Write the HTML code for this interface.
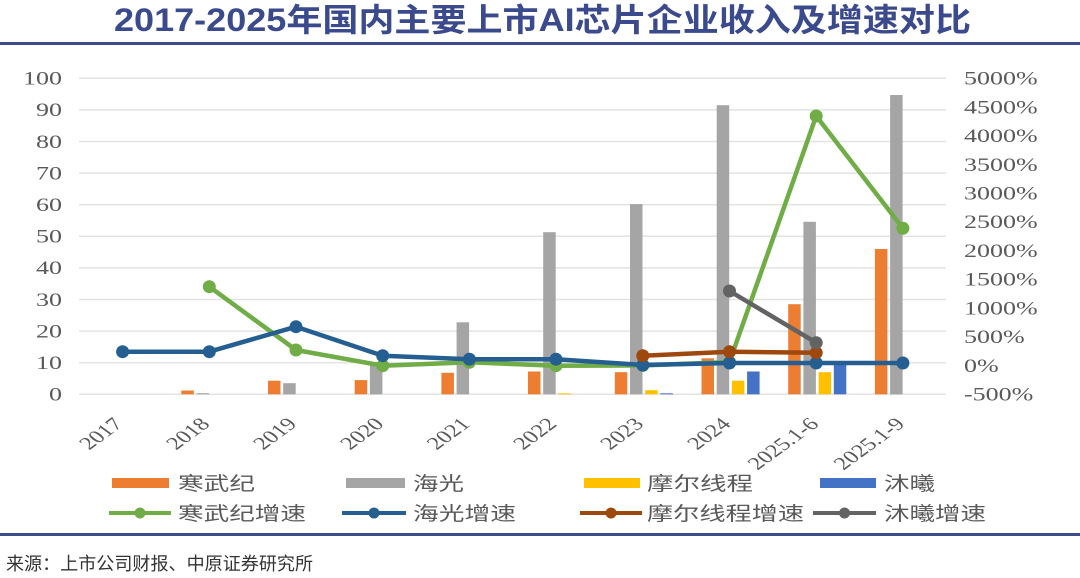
<!DOCTYPE html>
<html>
<head>
<meta charset="utf-8">
<style>
html,body{margin:0;padding:0;background:#fff;}
svg{display:block;}
.lg{font-family:"Liberation Sans","Noto Sans CJK SC",sans-serif;font-size:19px;fill:#595959;}
</style>
</head>
<body>
<svg width="1080" height="578" viewBox="0 0 1080 578" xmlns="http://www.w3.org/2000/svg">
<rect width="1080" height="578" fill="#fff"/>
<!-- title -->
<text x="114" y="31" textLength="857" lengthAdjust="spacingAndGlyphs" style="font-family:'Liberation Sans','Noto Sans CJK SC',sans-serif;font-size:32px;font-weight:bold;fill:#3b4a8c;">2017-2025年国内主要上市AI芯片企业收入及增速对比</text>
<rect x="0" y="42" width="1080" height="3" fill="#3f4c8c"/>

<!-- gridlines -->
<g stroke="#e3e3e3" stroke-width="1.5">
<line x1="79" x2="946" y1="394.3" y2="394.3"/>
<line x1="79" x2="946" y1="362.7" y2="362.7"/>
<line x1="79" x2="946" y1="331.1" y2="331.1"/>
<line x1="79" x2="946" y1="299.5" y2="299.5"/>
<line x1="79" x2="946" y1="267.9" y2="267.9"/>
<line x1="79" x2="946" y1="236.3" y2="236.3"/>
<line x1="79" x2="946" y1="204.7" y2="204.7"/>
<line x1="79" x2="946" y1="173.1" y2="173.1"/>
<line x1="79" x2="946" y1="141.5" y2="141.5"/>
<line x1="79" x2="946" y1="109.9" y2="109.9"/>
<line x1="79" x2="946" y1="78.3" y2="78.3"/>
</g>

<!-- left axis labels -->
<g font-family="Liberation Serif, serif" font-size="19" fill="#595959" text-anchor="end">
<text font-family="Liberation Serif, serif" transform="translate(62,400.6) scale(1.37,1)">0</text>
<text font-family="Liberation Serif, serif" transform="translate(62,369) scale(1.37,1)">10</text>
<text font-family="Liberation Serif, serif" transform="translate(62,337.4) scale(1.37,1)">20</text>
<text font-family="Liberation Serif, serif" transform="translate(62,305.8) scale(1.37,1)">30</text>
<text font-family="Liberation Serif, serif" transform="translate(62,274.2) scale(1.37,1)">40</text>
<text font-family="Liberation Serif, serif" transform="translate(62,242.6) scale(1.37,1)">50</text>
<text font-family="Liberation Serif, serif" transform="translate(62,211) scale(1.37,1)">60</text>
<text font-family="Liberation Serif, serif" transform="translate(62,179.4) scale(1.37,1)">70</text>
<text font-family="Liberation Serif, serif" transform="translate(62,147.8) scale(1.37,1)">80</text>
<text font-family="Liberation Serif, serif" transform="translate(62,116.2) scale(1.37,1)">90</text>
<text font-family="Liberation Serif, serif" transform="translate(62,84.6) scale(1.37,1)">100</text>
</g>
<!-- right axis labels: y = 394.3 - j*28.73 + 6.3 -->
<g font-family="Liberation Serif, serif" font-size="19" fill="#595959">
<text font-family="Liberation Serif, serif" transform="translate(964,400.6) scale(1.37,1)">-500%</text>
<text font-family="Liberation Serif, serif" transform="translate(964,371.9) scale(1.37,1)">0%</text>
<text font-family="Liberation Serif, serif" transform="translate(964,343.1) scale(1.37,1)">500%</text>
<text font-family="Liberation Serif, serif" transform="translate(964,314.4) scale(1.37,1)">1000%</text>
<text font-family="Liberation Serif, serif" transform="translate(964,285.7) scale(1.37,1)">1500%</text>
<text font-family="Liberation Serif, serif" transform="translate(964,256.9) scale(1.37,1)">2000%</text>
<text font-family="Liberation Serif, serif" transform="translate(964,228.2) scale(1.37,1)">2500%</text>
<text font-family="Liberation Serif, serif" transform="translate(964,199.5) scale(1.37,1)">3000%</text>
<text font-family="Liberation Serif, serif" transform="translate(964,170.8) scale(1.37,1)">3500%</text>
<text font-family="Liberation Serif, serif" transform="translate(964,142.0) scale(1.37,1)">4000%</text>
<text font-family="Liberation Serif, serif" transform="translate(964,113.3) scale(1.37,1)">4500%</text>
<text font-family="Liberation Serif, serif" transform="translate(964,84.6) scale(1.37,1)">5000%</text>
</g>

<!-- bars -->
<g fill="#ed7d31">
<rect x="181.3" y="390.5" width="12.5" height="3.8"/>
<rect x="268" y="380.7" width="12.5" height="13.6"/>
<rect x="354.7" y="380.1" width="12.5" height="14.2"/>
<rect x="441.4" y="372.8" width="12.5" height="21.5"/>
<rect x="528" y="371.5" width="12.5" height="22.8"/>
<rect x="614.8" y="372.2" width="12.5" height="22.1"/>
<rect x="701.5" y="358.3" width="12.5" height="36"/>
<rect x="788.2" y="304.2" width="12.5" height="90.1"/>
<rect x="874.9" y="249" width="12.5" height="145.3"/>
</g>
<g fill="#a5a5a5">
<rect x="196.5" y="393.2" width="12.5" height="1.1"/>
<rect x="283.2" y="383.2" width="12.5" height="11.1"/>
<rect x="369.9" y="362.1" width="12.5" height="32.2"/>
<rect x="456.6" y="322.3" width="12.5" height="72"/>
<rect x="543.2" y="232.2" width="12.5" height="162.1"/>
<rect x="630" y="204.1" width="12.5" height="190.2"/>
<rect x="716.7" y="105.2" width="12.5" height="289.1"/>
<rect x="803.4" y="221.8" width="12.5" height="172.5"/>
<rect x="890.1" y="95" width="12.5" height="299.3"/>
</g>
<g fill="#ffc000">
<rect x="558.4" y="393.3" width="12.5" height="1"/>
<rect x="645.2" y="390.2" width="12.5" height="4.1"/>
<rect x="731.9" y="380.7" width="12.5" height="13.6"/>
<rect x="818.6" y="372.2" width="12.5" height="22.1"/>
</g>
<g fill="#4472c4">
<rect x="660.4" y="393.3" width="12.5" height="1"/>
<rect x="747.1" y="371.5" width="12.5" height="22.8"/>
<rect x="833.8" y="361.8" width="12.5" height="32.5"/>
</g>

<!-- lines -->
<polyline fill="none" stroke="#70ad47" stroke-width="4.5" stroke-linejoin="round" points="209.3,286.7 296,350 382.7,365.7 469.4,362.3 556,365.7 642.8,365.5 729.5,362 816.2,116 902.9,228.3"/>
<g fill="#70ad47">
<circle cx="209.3" cy="286.7" r="6.5"/><circle cx="296" cy="350" r="6.5"/><circle cx="382.7" cy="365.7" r="6.5"/><circle cx="469.4" cy="362.3" r="6.5"/><circle cx="556" cy="365.7" r="6.5"/><circle cx="642.8" cy="365.5" r="6.5"/><circle cx="729.5" cy="362" r="6.5"/><circle cx="816.2" cy="116" r="6.5"/><circle cx="902.9" cy="228.3" r="6.5"/>
</g>
<polyline fill="none" stroke="#255e91" stroke-width="4.5" stroke-linejoin="round" points="122.6,351.7 209.3,351.7 296,326.7 382.7,355.7 469.4,359.2 556,359.2 642.8,365 729.5,363 816.2,363 902.9,363"/>
<g fill="#255e91">
<circle cx="122.6" cy="351.7" r="6.5"/><circle cx="209.3" cy="351.7" r="6.5"/><circle cx="296" cy="326.7" r="6.5"/><circle cx="382.7" cy="355.7" r="6.5"/><circle cx="469.4" cy="359.2" r="6.5"/><circle cx="556" cy="359.2" r="6.5"/><circle cx="642.8" cy="365" r="6.5"/><circle cx="729.5" cy="363" r="6.5"/><circle cx="816.2" cy="363" r="6.5"/><circle cx="902.9" cy="363" r="6.5"/>
</g>
<polyline fill="none" stroke="#9e480e" stroke-width="4.5" stroke-linejoin="round" points="642.8,355.7 729.5,351.7 816.2,352.7"/>
<g fill="#9e480e">
<circle cx="642.8" cy="355.7" r="6.5"/><circle cx="729.5" cy="351.7" r="6.5"/><circle cx="816.2" cy="352.7" r="6.5"/>
</g>
<polyline fill="none" stroke="#636363" stroke-width="4.5" points="729.5,291 816.2,342.7"/>
<g fill="#636363">
<circle cx="729.5" cy="291" r="6.5"/><circle cx="816.2" cy="342.7" r="6.5"/>
</g>

<!-- x labels -->
<g font-family="Liberation Serif, serif" font-size="18" fill="#595959" text-anchor="end">
<text font-family="Liberation Serif, serif" transform="translate(124,425) scale(1.37,1) rotate(-45)">2017</text>
<text font-family="Liberation Serif, serif" transform="translate(211,425) scale(1.37,1) rotate(-45)">2018</text>
<text font-family="Liberation Serif, serif" transform="translate(298,425) scale(1.37,1) rotate(-45)">2019</text>
<text font-family="Liberation Serif, serif" transform="translate(385,425) scale(1.37,1) rotate(-45)">2020</text>
<text font-family="Liberation Serif, serif" transform="translate(471.5,425) scale(1.37,1) rotate(-45)">2021</text>
<text font-family="Liberation Serif, serif" transform="translate(558,425) scale(1.37,1) rotate(-45)">2022</text>
<text font-family="Liberation Serif, serif" transform="translate(645,425) scale(1.37,1) rotate(-45)">2023</text>
<text font-family="Liberation Serif, serif" transform="translate(732,425) scale(1.37,1) rotate(-45)">2024</text>
<text font-family="Liberation Serif, serif" transform="translate(820,425) scale(1.37,1) rotate(-45)">2025.1-6</text>
<text font-family="Liberation Serif, serif" transform="translate(906,425) scale(1.37,1) rotate(-45)">2025.1-9</text>
</g>

<!-- legend row 1 -->
<rect x="112" y="478" width="57" height="10" fill="#ed7d31"/>
<text class="lg" x="178" y="490" textLength="77" lengthAdjust="spacingAndGlyphs">寒武纪</text>
<rect x="346" y="478" width="59" height="10" fill="#a5a5a5"/>
<text class="lg" x="413" y="490" textLength="51" lengthAdjust="spacingAndGlyphs">海光</text>
<rect x="584" y="478" width="56" height="10" fill="#ffc000"/>
<text class="lg" x="647" y="490" textLength="106" lengthAdjust="spacingAndGlyphs">摩尔线程</text>
<rect x="820" y="478" width="56" height="10" fill="#4472c4"/>
<text class="lg" x="884" y="490" textLength="51" lengthAdjust="spacingAndGlyphs">沐曦</text>

<!-- legend row 2 -->
<line x1="109" x2="171" y1="513" y2="513" stroke="#70ad47" stroke-width="4"/>
<circle cx="140" cy="513" r="5.5" fill="#70ad47"/>
<text class="lg" x="178" y="520" textLength="128" lengthAdjust="spacingAndGlyphs">寒武纪增速</text>
<line x1="342" x2="406" y1="513" y2="513" stroke="#255e91" stroke-width="4"/>
<circle cx="374" cy="513" r="5.5" fill="#255e91"/>
<text class="lg" x="413" y="520" textLength="103" lengthAdjust="spacingAndGlyphs">海光增速</text>
<line x1="580" x2="642" y1="513" y2="513" stroke="#9e480e" stroke-width="4"/>
<circle cx="611" cy="513" r="5.5" fill="#9e480e"/>
<text class="lg" x="647" y="520" textLength="157" lengthAdjust="spacingAndGlyphs">摩尔线程增速</text>
<line x1="813" x2="876" y1="513" y2="513" stroke="#636363" stroke-width="4"/>
<circle cx="844.5" cy="513" r="5.5" fill="#636363"/>
<text class="lg" x="884" y="520" textLength="102" lengthAdjust="spacingAndGlyphs">沐曦增速</text>

<!-- bottom rule + source -->
<rect x="0" y="533" width="1080" height="3" fill="#3f4c8c"/>
<text x="6" y="570" textLength="307" lengthAdjust="spacingAndGlyphs" style="font-family:'Liberation Sans','Noto Sans CJK SC',sans-serif;font-size:18px;fill:#333;">来源：上市公司财报、中原证券研究所</text>
</svg>
</body>
</html>
